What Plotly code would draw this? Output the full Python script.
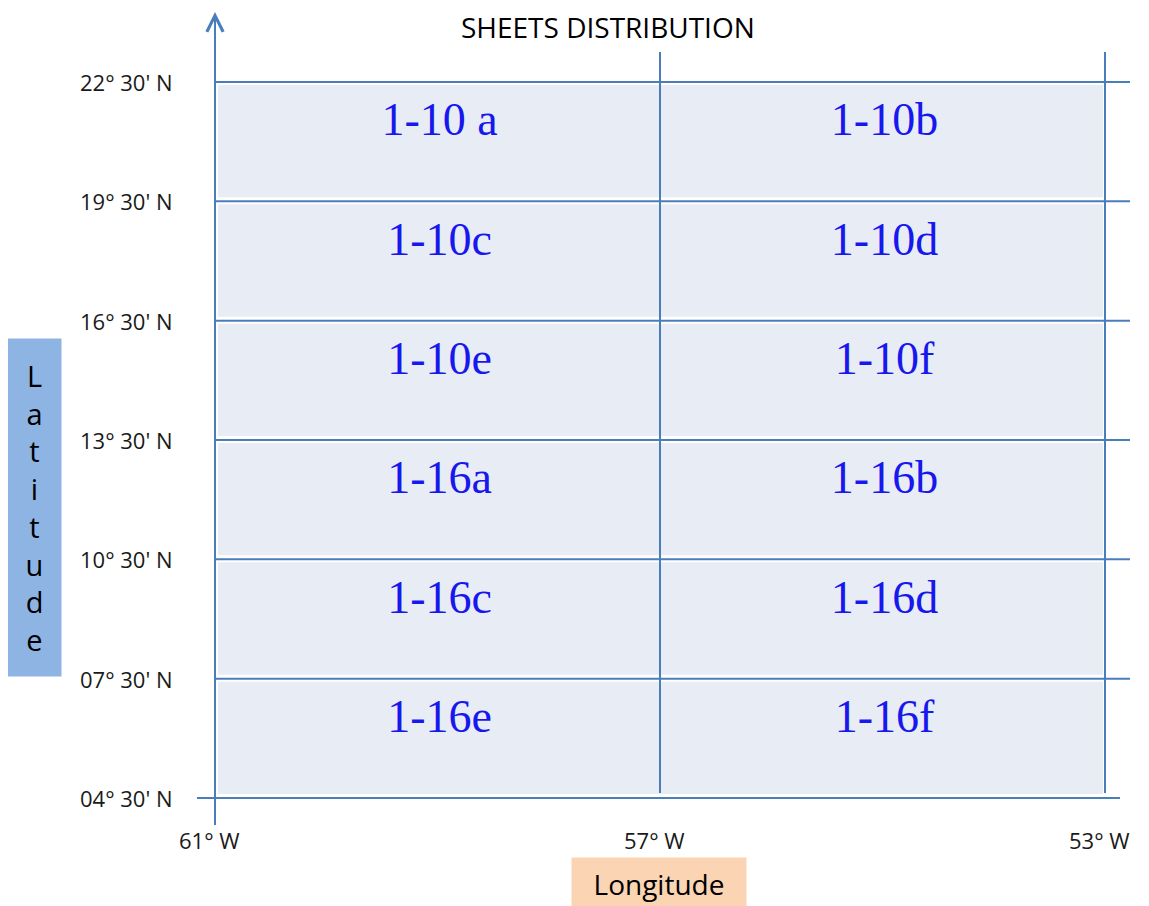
import plotly.graph_objects as go

# ---------------- data ----------------
lon_edges = [-61, -57, -53]
lon_labels = ["61° W", "57° W", "53° W"]
lat_edges = [22.5, 19.5, 16.5, 13.5, 10.5, 7.5, 4.5]
lat_labels = ["22° 30' N", "19° 30' N", "16° 30' N", "13° 30' N",
              "10° 30' N", "07° 30' N", "04° 30' N"]
sheets = [["1-10 a", "1-10b"],
          ["1-10c", "1-10d"],
          ["1-10e", "1-10f"],
          ["1-16a", "1-16b"],
          ["1-16c", "1-16d"],
          ["1-16e", "1-16f"]]

# ---------------- layout constants ----------------
PAGE_W, PAGE_H = 1149, 906
OFF = 8                        # default body margin of the page
W, H = PAGE_W - OFF, PAGE_H - OFF
X0_PX, X1_PX = 215 - OFF, 1105 - OFF   # first / last longitude edge
Y0_PX, Y1_PX = 82 - OFF, 798 - OFF     # first / last latitude edge
ppx = (X1_PX - X0_PX) / (lon_edges[-1] - lon_edges[0])
ppy = (Y1_PX - Y0_PX) / (lat_edges[0] - lat_edges[-1])
x_range = [lon_edges[0] - X0_PX / ppx, lon_edges[0] + (W - X0_PX) / ppx]
y_range = [lat_edges[-1] - (H - Y1_PX) / ppy, lat_edges[0] + Y0_PX / ppy]


def dx(px):
    return px / ppx


def dy(px):
    return px / ppy


def paper_x(page_px):
    return (page_px - OFF) / W


def paper_y(page_px):
    return 1 - (page_px - OFF) / H


LINE = "#4A7EBB"
FILL = "#E8ECF4"

fig = go.Figure()
shapes = []

lon_min, lon_max = lon_edges[0], lon_edges[-1]
lat_top, lat_bot = lat_edges[0], lat_edges[-1]

# row fills (small white gap under each line)
for i in range(len(lat_edges) - 1):
    hi, lo = lat_edges[i], lat_edges[i + 1]
    shapes.append(dict(type="rect", xref="x", yref="y", layer="below",
                       x0=lon_min + dx(3), x1=lon_max - dx(2),
                       y0=lo + dy(4), y1=hi - dy(3),
                       fillcolor=FILL, line=dict(width=0)))

# horizontal lines
for i, lat in enumerate(lat_edges):
    if i == len(lat_edges) - 1:
        x0, x1 = lon_min - dx(18), lon_max + dx(15)
    else:
        x0, x1 = lon_min, lon_max + dx(25)
    shapes.append(dict(type="line", xref="x", yref="y", x0=x0, x1=x1,
                       y0=lat, y1=lat, line=dict(color=LINE, width=2)))

# vertical lines (inner & right)
for lon in lon_edges[1:]:
    shapes.append(dict(type="line", xref="x", yref="y", x0=lon, x1=lon,
                       y0=lat_bot + dy(5), y1=lat_top + dy(30),
                       line=dict(color=LINE, width=2)))

# left axis line
shapes.append(dict(type="line", xref="x", yref="y", x0=lon_min, x1=lon_min,
                   y0=lat_bot - dy(27), y1=lat_top + dy(68),
                   line=dict(color=LINE, width=2)))

annotations = []
# arrow head on latitude axis
annotations.append(dict(x=lon_min, y=lat_top + dy(70), xref="x", yref="y",
                        ax=lon_min, ay=lat_top + dy(20), axref="x", ayref="y",
                        showarrow=True, arrowhead=5, arrowsize=1.6,
                        arrowwidth=2, arrowcolor=LINE, text=""))

TICK_FONT = dict(family="Open Sans", size=22, color="#1a1a1a")

# latitude tick labels
for lat, lab in zip(lat_edges, lat_labels):
    annotations.append(dict(x=lon_min - dx(40), y=lat, xref="x", yref="y",
                            text=lab, showarrow=False, xanchor="right",
                            yanchor="middle", font=TICK_FONT))

# longitude tick labels
for lon, lab in zip(lon_edges, lon_labels):
    annotations.append(dict(x=lon - dx(6), y=lat_bot - dy(42), xref="x", yref="y",
                            text=lab, showarrow=False, xanchor="center",
                            yanchor="middle", font=TICK_FONT))

# sheet labels
tx, ty, tt = [], [], []
for i, row in enumerate(sheets):
    yc = (lat_edges[i] + lat_edges[i + 1]) / 2 + dy(18)
    for j, name in enumerate(row):
        xc = (lon_edges[j] + lon_edges[j + 1]) / 2 + dx(2)
        tx.append(xc)
        ty.append(yc)
        tt.append(name)
fig.add_trace(go.Scatter(x=tx, y=ty, text=tt, mode="text", hoverinfo="skip",
                         textfont=dict(family="Liberation Serif", size=46,
                                       color="#1717ee"),
                         cliponaxis=False, showlegend=False))

# title
annotations.append(dict(x=paper_x(608), y=paper_y(27), xref="paper", yref="paper",
                        text="SHEETS DISTRIBUTION", showarrow=False,
                        xanchor="center", yanchor="middle",
                        font=dict(family="Open Sans", size=28, color="#000000")))

# Latitude box
annotations.append(dict(x=paper_x(34.5), y=paper_y(507), xref="paper", yref="paper",
                        text="<br>".join("Latitude"), showarrow=False,
                        xanchor="center", yanchor="middle", align="center",
                        width=51, height=335, bgcolor="#8EB4E3",
                        font=dict(family="Open Sans", size=29, color="#000000")))

# Longitude box
annotations.append(dict(x=paper_x(659), y=paper_y(884), xref="paper", yref="paper",
                        text="Longitude", showarrow=False,
                        xanchor="center", yanchor="middle", align="center",
                        width=172, height=50, bgcolor="#FBD4B4",
                        font=dict(family="Open Sans", size=28, color="#000000")))

fig.update_layout(
    width=W, height=H, autosize=False,
    margin=dict(l=0, r=0, t=0, b=0),
    paper_bgcolor="white", plot_bgcolor="white",
    xaxis=dict(range=x_range, visible=False, fixedrange=True),
    yaxis=dict(range=y_range, visible=False, fixedrange=True),
    shapes=shapes, annotations=annotations, showlegend=False,
)

fig.write_html("out.html")
